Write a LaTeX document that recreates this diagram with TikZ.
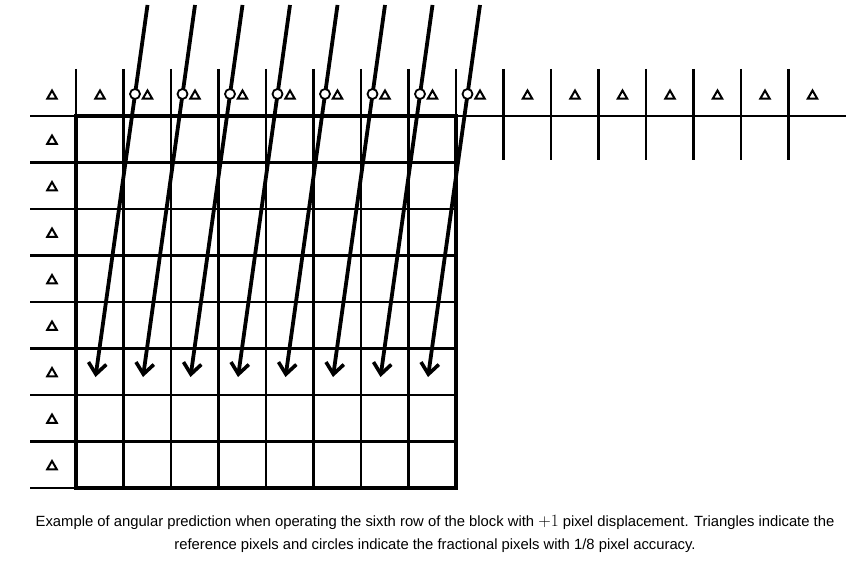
\documentclass[tikz,border=0pt]{standalone}
\usepackage{fontspec}
\setmainfont{Liberation Sans}
\usetikzlibrary{shapes.geometric,arrows.meta}
\definecolor{ink}{HTML}{000000}
\definecolor{paper}{HTML}{FFFFFF}

\tikzset{
  thinline/.style={ink,line width=2.1pt},
  thickline/.style={ink,line width=4.4pt},
  refpix/.style={draw=ink,line width=2pt,regular polygon,regular polygon sides=3,
    inner sep=0pt,minimum size=11pt},
  fracpix/.style={draw=ink,fill=paper,line width=1.8pt,circle,inner sep=0pt,minimum size=10pt},
  ray/.style={ink,line width=3.8pt,-{Straight Barb[length=11pt,width=18pt,line width=3.6pt]}}
}

\begin{document}
\begin{tikzpicture}[x=1pt,y=-1pt]
  % Page
  \useasboundingbox (0,0) rectangle (856,567);
  \fill[paper] (0,0) rectangle (856,567);

  % Reference row (top) and its cell walls
  \draw[thinline] (30,116) -- (846,116);
  \foreach \k in {0,...,8} {
    \draw[thinline] (76+47.5*\k,69) -- (76+47.5*\k,488);
  }
  \foreach \k in {9,...,15} {
    \draw[thinline] (76+47.5*\k,69) -- (76+47.5*\k,160);
  }

  % Block rows with the left reference column
  \foreach \j in {1,...,8} {
    \draw[thinline] (30,116+46.5*\j) -- (456,116+46.5*\j);
  }

  % Block border
  \draw[thickline] (76,116) rectangle (456,488);

  % Reference pixels (triangles)
  \node[refpix] (rc) at (52,96) {};
  \foreach \k in {0,...,15} {
    \node[refpix] (rt\k) at (100+47.5*\k,96) {};
  }
  \foreach \j in {0,...,7} {
    \node[refpix] (rl\j) at (52,141+46.5*\j) {};
  }

  % Prediction directions, +1 pixel displacement
  \foreach \i in {0,...,7} {
    \coordinate (top\i) at (147.5+47.5*\i,5);
    \coordinate (tip\i) at (95.5+47.5*\i,377);
    \draw[ray] (top\i) -- (tip\i);
  }

  % Fractional pixels (circles)
  \foreach \i in {0,...,7} {
    \node[fracpix] (fp\i) at (135+47.5*\i,94) {};
  }

  % Caption
  \node[ink,align=center,font=\fontsize{14.8}{23}\selectfont] (caption) at (435,534)
    {Example of angular prediction when operating the sixth row of the block with {\fontsize{18}{23}\selectfont$+1$} pixel displacement. Triangles indicate the\\
     reference pixels and circles indicate the fractional pixels with 1/8 pixel accuracy.};
\end{tikzpicture}
\end{document}
